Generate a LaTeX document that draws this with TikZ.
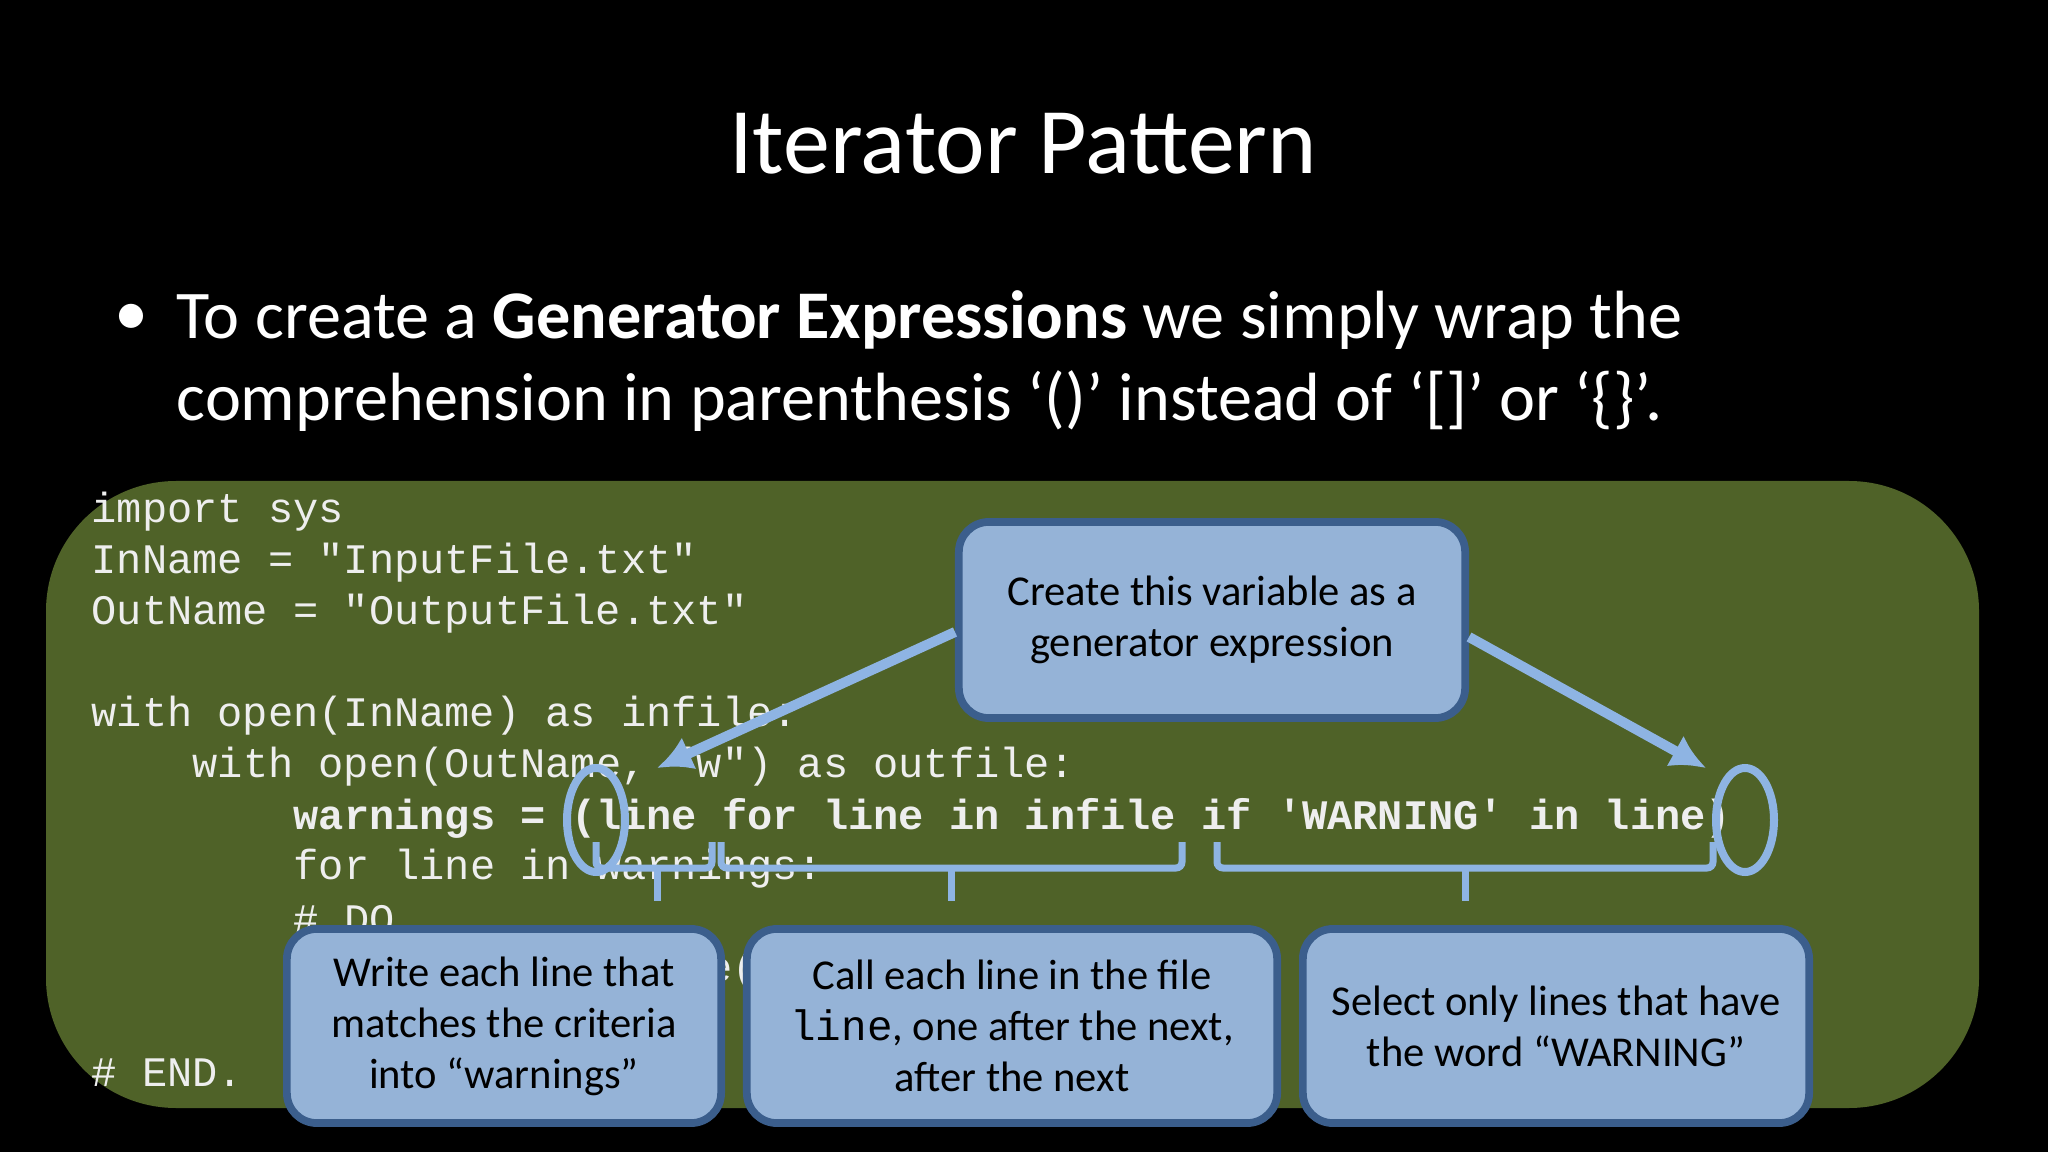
\documentclass[tikz,border=0pt]{standalone}
\usepackage{fontspec}
\setmainfont{Carlito}
\newfontfamily\codefont{Liberation Mono}
\usetikzlibrary{positioning,arrows.meta}
\definecolor{slidegreen}{HTML}{4F6228}
\definecolor{notefill}{HTML}{95B3D7}
\definecolor{noteline}{HTML}{3B5E8C}
\definecolor{pointer}{HTML}{8EB4E3}
\definecolor{codegray}{HTML}{EEEEEE}

\begin{document}
\begin{tikzpicture}[
                    x=0.01cm, y=-0.01cm,
                    codeline/.style={
                                     anchor=west,
                                     inner sep=0pt,
                                     text=codegray,
                                     font=\codefont\fontsize{11.95}{14}\selectfont
                                    },
                    notebox/.style={
                                    draw=noteline,
                                    fill=notefill,
                                    line width=2.2pt,
                                    rounded corners=0.3cm,
                                    align=center,
                                    inner sep=0pt,
                                    font=\fontsize{12.1}{14.5}\selectfont
                                   },
                    pointerline/.style={
                                        draw=pointer,
                                        line width=0.1cm
                                       },
                    bracket/.style={
                                    draw=pointer,
                                    line width=0.07cm,
                                    rounded corners=0.06cm
                                   },
                   ]
        % background and slide
        \fill[black] (0,0) rectangle (2048,1152);
        \fill[slidegreen, rounded corners=1.3cm] (46,481) rectangle (1979,1108);
        \node[text=white, font=\fontsize{26.7}{32}\selectfont] (title) at (1023,144) {Iterator Pattern};
        \node[text=white, font=\fontsize{19.4}{23}\selectfont] (dot) at (131,320) {\textbullet};
        \node[text=white, anchor=west, inner sep=0pt, font=\fontsize{19.4}{23}\selectfont] (bul1) at (176,320)
          {To create a \textbf{Generator Expressions} we simply wrap the};
        \node[text=white, anchor=west, inner sep=0pt, font=\fontsize{19.4}{23}\selectfont] (bul2) at (176,401)
          {comprehension in parenthesis ‘()’ instead of ‘[]’ or ‘\{\}’.};
        % code
        \node[codeline] (c0) at (91,512) {import sys};
        \node[codeline] (c1) at (91,563) {InName = "InputFile.txt"};
        \node[codeline] (c2) at (91,614) {OutName = "OutputFile.txt"};
        \node[codeline] (c4) at (91,716) {with open(InName) as infile:};
        \node[codeline] (c5) at (192,767) {with open(OutName, "w") as outfile:};
        \node[codeline, font=\codefont\bfseries\fontsize{11.95}{14}\selectfont] (c6) at (293,818)
          {warnings = (line for line in infile if 'WARNING' in line)};
        \node[codeline] (c7) at (293,869) {for line in warnings:};
        \node[codeline] (c8) at (293,920) {\# DO};
        \node[codeline] (c9) at (404,971) {outfile.write(line)};
        \node[codeline] (c11) at (91,1073) {\# END.};
        % pointers
        \draw[pointer, line width=0.08cm] (596,820) ellipse (29 and 52);
        \draw[pointer, line width=0.08cm] (1745,820) ellipse (29 and 52);
        \draw[bracket] (596,842) -- (596,868) -- (712,868) -- (712,842);
        \draw[bracket] (721,842) -- (721,868) -- (1182,868) -- (1182,842);
        \draw[bracket] (1217,842) -- (1217,868) -- (1713,868) -- (1713,842);
        \draw[bracket] (657,868) -- (657,901) (951,868) -- (951,901) (1465,868) -- (1465,901);
        % notes
        \node[notebox, minimum width=5.06cm, minimum height=1.96cm] (top) at (1212,620)
          {Create this variable as a\\generator expression};
        \node[notebox, minimum width=4.34cm, minimum height=1.94cm] (write) at (504,1026)
          {Write each line that\\matches the criteria\\into “warnings”};
        \node[notebox, minimum width=5.30cm, minimum height=1.94cm] (call) at (1012,1026)
          {Call each line in the file\\{\codefont line}, one after the next,\\after the next};
        \node[notebox, minimum width=5.06cm, minimum height=1.94cm] (select) at (1556,1026)
          {Select only lines that have\\the word “WARNING”};
        \coordinate (lefttip) at (657,768);
        \coordinate (righttip) at (1706,768);
        \draw[pointerline, -{Latex[length=0.35cm, width=0.35cm]}] (top.west |- 0,632) -- (lefttip);
        \draw[pointerline, -{Latex[length=0.35cm, width=0.35cm]}] (top.east |- 0,637) -- (righttip);
      \end{tikzpicture}
\end{document}
